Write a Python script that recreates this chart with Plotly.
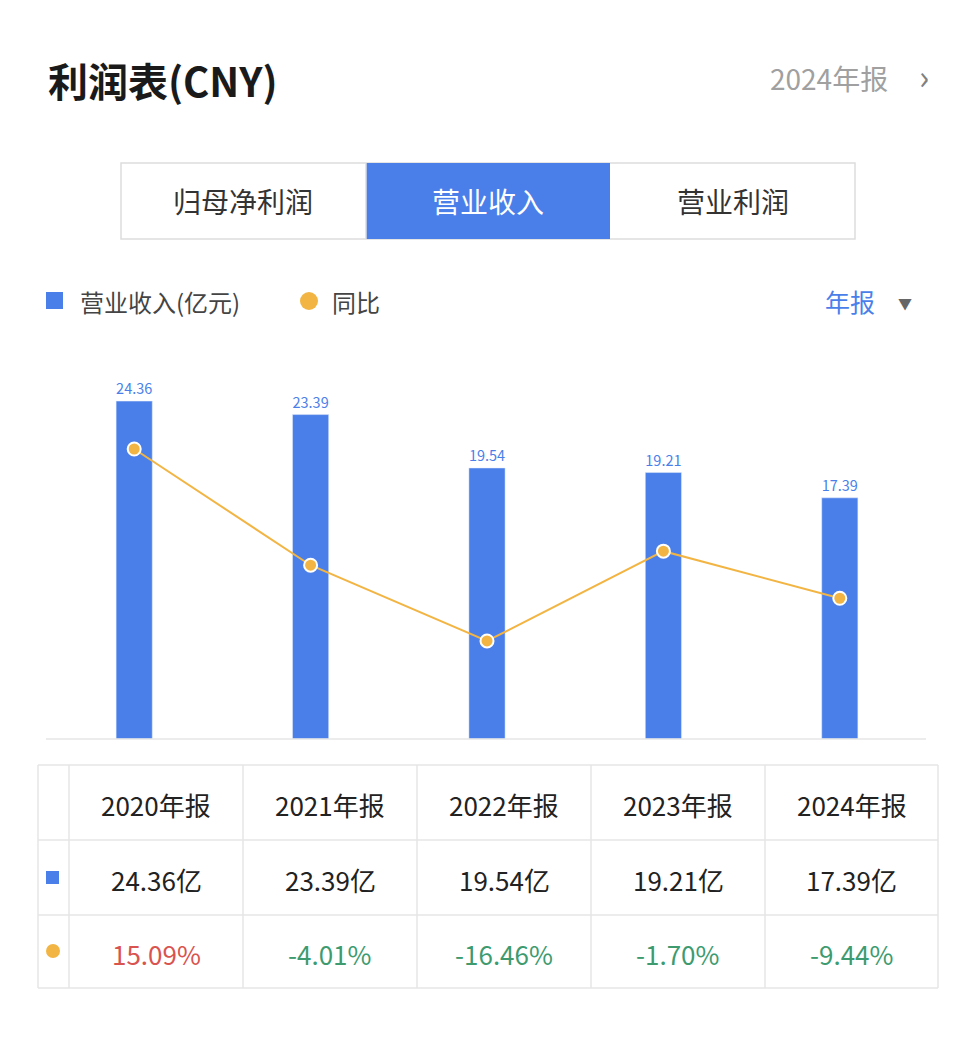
import plotly.graph_objects as go

years = ["2020年报", "2021年报", "2022年报", "2023年报", "2024年报"]
revenue = [24.36, 23.39, 19.54, 19.21, 17.39]
yoy = [15.09, -4.01, -16.46, -1.70, -9.44]
tabs = ["归母净利润", "营业收入", "营业利润"]

W, H = 960, 1043
BLUE = "#4a7fea"
ORANGE = "#f2b544"
FONT = "Noto Sans CJK SC"

def px(x): return x / W
def py(y): return 1 - y / H

fig = go.Figure()
fig.add_trace(go.Bar(x=years, y=revenue, marker_color=BLUE, width=0.205,
                     text=[f"{v:.2f}" for v in revenue], textposition="outside",
                     textfont=dict(color=BLUE, size=22, family=FONT), cliponaxis=False,
                     showlegend=False))
fig.add_trace(go.Scatter(x=years, y=yoy, yaxis="y2", mode="lines+markers",
                         line=dict(color=ORANGE, width=2),
                         marker=dict(color=ORANGE, size=13, line=dict(color="white", width=2)),
                         showlegend=False))

shapes, ann = [], []
def rect(x0, y0, x1, y1, fill, line=None, w=1):
    shapes.append(dict(type="rect", xref="paper", yref="paper", x0=px(x0), x1=px(x1),
                       y0=py(y0), y1=py(y1), fillcolor=fill,
                       line=dict(color=line or "rgba(0,0,0,0)", width=w if line else 0), layer="below"))
def line(x0, y0, x1, y1, c="#e6e6e6", w=1.5):
    shapes.append(dict(type="line", xref="paper", yref="paper", x0=px(x0), x1=px(x1),
                       y0=py(y0), y1=py(y1), line=dict(color=c, width=w)))
def text(x, y, t, size, color, anchor="center", bold=False):
    ann.append(dict(x=px(x), y=py(y), xref="paper", yref="paper", text=f"<b>{t}</b>" if bold else t,
                    showarrow=False, xanchor=anchor, yanchor="middle",
                    font=dict(size=size, color=color, family=FONT)))

# header
text(38, 72, "利润表(CNY)", 40, "#1a1a1a", "left", bold=True)
text(882, 70, "2024年报", 28, "#a0a0a0", "right")
text(916, 68, "›", 34, "#808080", "center")

# tabs
rect(113, 155, 847, 231, "white", "#dddddd", 1.5)
rect(358, 155, 602, 231, BLUE)
line(358, 155, 358, 231, "#dddddd")
for i, t in enumerate(tabs):
    cx = [235, 480, 725][i]
    text(cx, 193, t, 28, "white" if i == 1 else "#333333")

# legend
rect(38, 284, 55, 301, BLUE)
text(70, 293, "营业收入(亿元)", 24, "#444444", "left")
shapes.append(dict(type="circle", xref="paper", yref="paper", x0=px(292), x1=px(310),
                   y0=py(284), y1=py(302), fillcolor=ORANGE, line=dict(width=0)))
text(322, 293, "同比", 24, "#444444", "left")
text(815, 293, "年报", 25, BLUE, "left")
text(897, 295, "▼", 14, "#666666")

# baseline
line(38, 731, 918, 731, "#e6e6e6", 1.5)

# table
tx = [30, 61, 235, 409, 583, 757, 930]
ty = [757, 832, 907, 980]
for x in tx:
    line(x, ty[0], x, ty[-1])
for y in ty:
    line(tx[0], y, tx[-1], y)
rect(38, 863, 51, 876, BLUE)
shapes.append(dict(type="circle", xref="paper", yref="paper", x0=px(38), x1=px(52),
                   y0=py(936), y1=py(950), fillcolor=ORANGE, line=dict(width=0)))
for i in range(5):
    cx = (tx[i + 1] + tx[i + 2]) / 2
    text(cx, 796, years[i], 26, "#222222")
    text(cx, 871, f"{revenue[i]:.2f}亿", 26, "#222222")
    c = "#d9534f" if yoy[i] > 0 else "#3d9b6f"
    text(cx, 945, f"{yoy[i]:.2f}%", 26, c)

fig.update_layout(
    width=W, height=H, margin=dict(l=0, r=0, t=0, b=0),
    paper_bgcolor="white", plot_bgcolor="white",
    xaxis=dict(domain=[px(38), px(920)], range=[-0.5, 4.5], visible=False),
    yaxis=dict(domain=[py(731), py(340)], range=[0, 28.19], visible=False),
    yaxis2=dict(overlaying="y", range=[-32.57, 31.69], visible=False),
    shapes=shapes, annotations=ann, showlegend=False,
)
fig.write_html("out.html")
